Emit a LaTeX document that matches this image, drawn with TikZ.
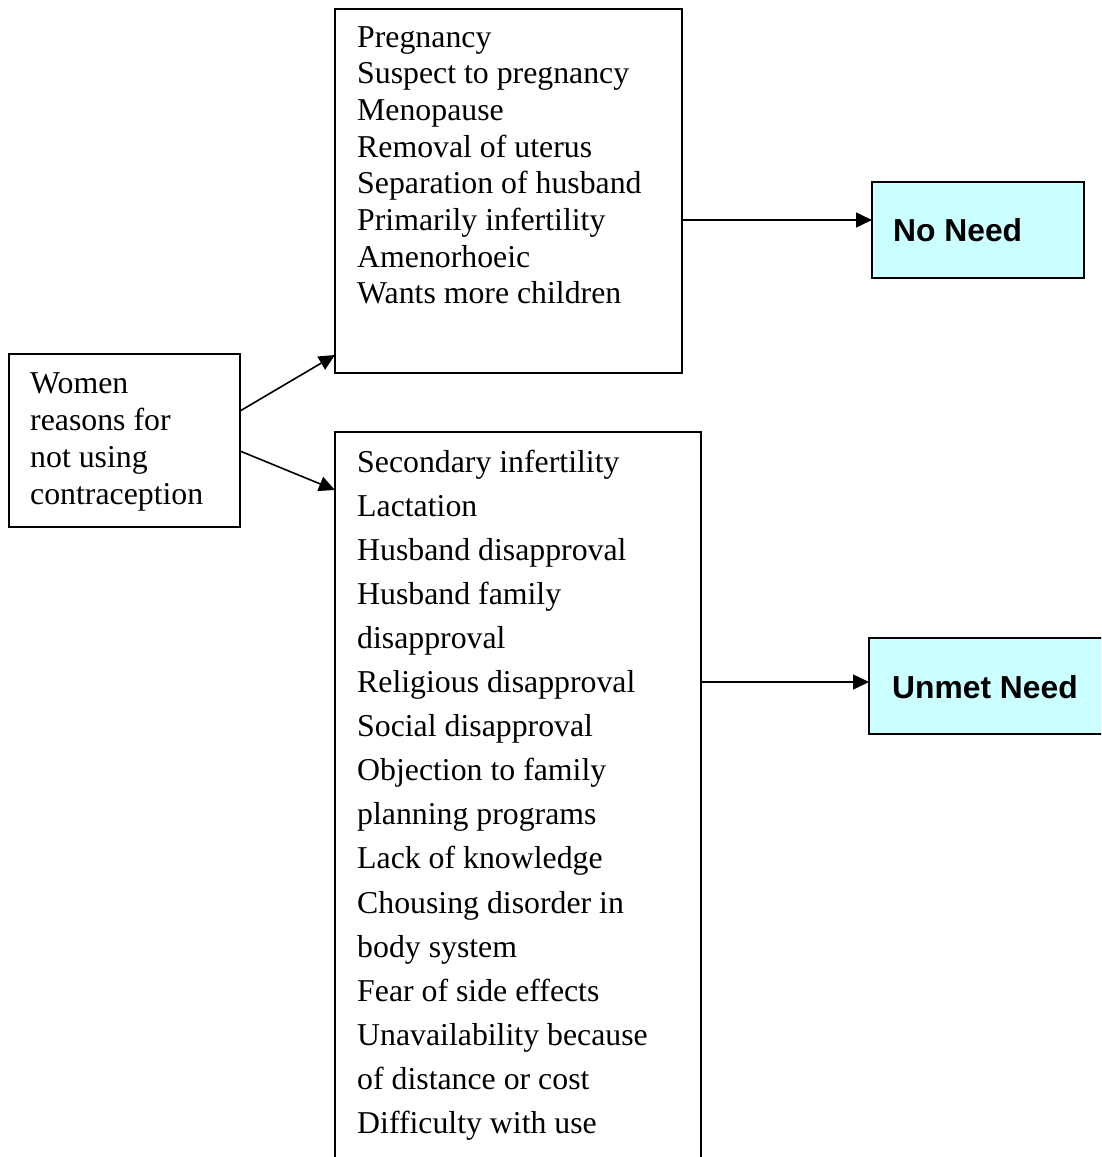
\documentclass[tikz,border=0pt]{standalone}
\usepackage{fontspec}
\setmainfont{Liberation Serif}
\newfontfamily\needfont{Liberation Sans}
\usetikzlibrary{arrows.meta}
\definecolor{needcyan}{HTML}{CCFFFF}
\begin{document}
\begin{tikzpicture}[x=1pt,y=-1pt,
 box/.style={draw, line width=1.5pt, rectangle, inner sep=0pt, outer sep=0pt, anchor=north west},
 needbox/.style={box, fill=needcyan},
 txt/.style={anchor=base west, inner sep=0pt, font=\fontsize{31.8}{38}\selectfont},
 needtxt/.style={anchor=base west, inner sep=0pt, font=\needfont\bfseries\fontsize{31.8}{38}\selectfont},
 conn/.style={line width=1.6pt, -{Triangle[length=16pt,width=15pt]}}]
\useasboundingbox (0,0) rectangle (1101,1157);
\clip (0,0) rectangle (1101,1157);
% boxes
\node[box, minimum width=231pt, minimum height=173pt] (women) at (9,354) {};
\node[box, minimum width=347pt, minimum height=364pt] (top) at (335,9) {};
\node[box, minimum width=366pt, minimum height=780pt] (bot) at (335,432) {};
\node[needbox, minimum width=212pt, minimum height=96pt] (nn) at (872,182) {};
\node[needbox, minimum width=260pt, minimum height=96pt] (um) at (869,638) {};
% texts
\foreach \t [count=\i from 0] in {Women,reasons for,not using,contraception}
  \node[txt] (w\i) at (30,{393+37*\i}) {\t};
\foreach \t [count=\i from 0] in {Pregnancy,Suspect to pregnancy,Menopause,Removal of uterus,Separation of husband,Primarily infertility,Amenorhoeic,Wants more children}
  \node[txt] (p\i) at (357,{47+36.7*\i}) {\t};
\foreach \t [count=\i from 0] in {Secondary infertility,Lactation,Husband disapproval,Husband family,disapproval,Religious disapproval,Social disapproval,Objection to family,planning programs,Lack of knowledge,Chousing disorder in,body system,Fear of side effects,Unavailability because,of distance or cost,Difficulty with use}
  \node[txt] (s\i) at (357,{472+44.1*\i}) {\t};
\node[needtxt] (nnt) at (893,241) {No Need};
\node[needtxt] (umt) at (892,698) {Unmet Need};
% connectors
\draw[conn] ([yshift=29.5pt]women.east) -- ([yshift=18pt]top.south west);
\draw[conn] ([yshift=-10.5pt]women.east) -- ([yshift=-58pt]bot.north west);
\draw[conn] ([yshift=-29pt]top.east) -- ([yshift=-29pt]top.east -| nn.west);
\draw[conn] ([yshift=4pt]um.west -| bot.east) -- ([yshift=4pt]um.west);
\end{tikzpicture}
\end{document}
